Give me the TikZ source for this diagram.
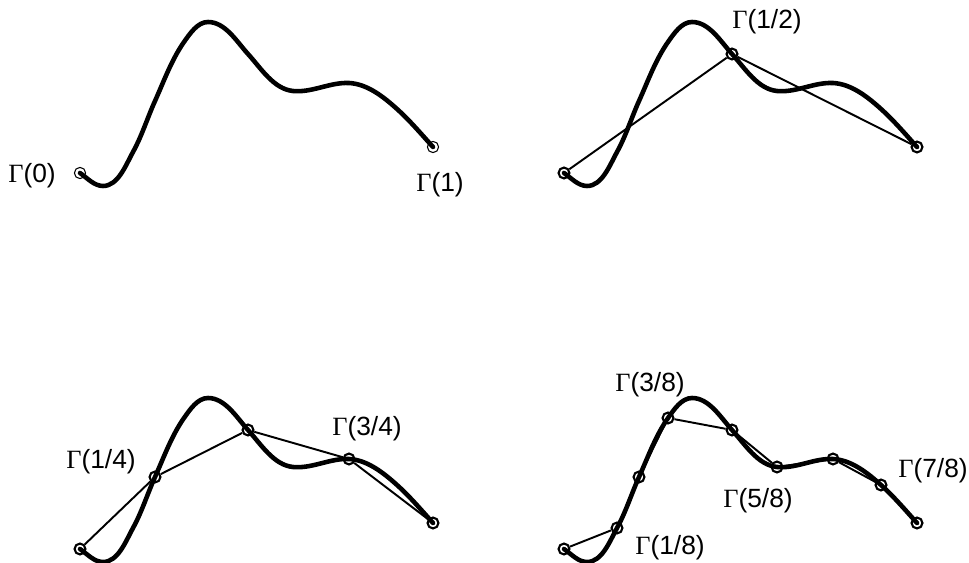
\documentclass[tikz,border=0pt]{standalone}
\usepackage{fontspec}
\setmainfont{Liberation Sans}
\newfontfamily\gammafont{Liberation Serif}
\newcommand{\Gam}{{\gammafont Γ}}
\tikzset{
  curve/.style={line width=2.6pt, line cap=round, line join=round},
  chord/.style={line width=1.1pt},
  pt/.style={circle, draw, line width=1.2pt, inner sep=0pt, minimum size=6.2pt},
  thinpt/.style={circle, draw, line width=0.6pt, inner sep=0pt, minimum size=6.4pt},
  lab/.style={font=\fontsize{15}{18}\selectfont, inner sep=0pt}
}
\newcommand{\gammacurve}{(80,173) .. controls (87.2,178) and (94.2,186) .. (103,186)
  .. controls (118.1,186) and (125.7,165.2) .. (133,152)
  .. controls (141.9,135.8) and (147.4,117.9) .. (155,101)
  .. controls (164,81) and (171.5,59.9) .. (184,42)
  .. controls (190,33.5) and (197.6,22) .. (208,22)
  .. controls (225.1,22) and (236.5,41.3) .. (248,54)
  .. controls (261.1,68.4) and (273.7,89.1) .. (293,91)
  .. controls (311.8,92.9) and (330.1,82.1) .. (349,83)
  .. controls (367.2,83.9) and (383.5,96.8) .. (397,109)
  .. controls (409.9,120.6) and (421.3,134.1) .. (433,147)}

\begin{document}
\begin{tikzpicture}[x=0.02cm, y=-0.02cm]
\useasboundingbox (0,0) rectangle (969,563);

\begin{scope}
\draw[curve] \gammacurve;
\node[thinpt] (a0) at (80,173) {};
\node[thinpt] (a8) at (433,147) {};
\node[lab] (la0) at (32,176) {\Gam(0)};
\node[lab] (la8) at (440,185) {\Gam(1)};
\end{scope}

\begin{scope}[shift={(484,0)}]
\draw[curve] \gammacurve;
\node[pt] (b0) at (80,173) {};
\node[pt] (b4) at (248,54) {};
\node[pt] (b8) at (433,147) {};
\draw[chord] (b0) -- (b4) -- (b8);
\node[lab] (lb4) at (283,22) {\Gam(1/2)};
\end{scope}

\begin{scope}[shift={(0,376)}]
\draw[curve] \gammacurve;
\node[pt] (c0) at (80,173) {};
\node[pt] (c2) at (155,101) {};
\node[pt] (c4) at (248,54) {};
\node[pt] (c6) at (349,83) {};
\node[pt] (c8) at (433,147) {};
\draw[chord] (c0) -- (c2) -- (c4) -- (c6) -- (c8);
\node[lab] (lc2) at (101,86) {\Gam(1/4)};
\node[lab] (lc6) at (367,53) {\Gam(3/4)};
\end{scope}

\begin{scope}[shift={(484,376)}]
\draw[curve] \gammacurve;
\node[pt] (d0) at (80,173) {};
\node[pt] (d1) at (133,152) {};
\node[pt] (d2) at (155,101) {};
\node[pt] (d3) at (184,42) {};
\node[pt] (d4) at (248,54) {};
\node[pt] (d5) at (293,91) {};
\node[pt] (d6) at (349,83) {};
\node[pt] (d7) at (397,109) {};
\node[pt] (d8) at (433,147) {};
\draw[chord] (d0) -- (d1) -- (d2) -- (d3) -- (d4) -- (d5) -- (d6) -- (d7) -- (d8);
\node[lab] (ld1) at (186,172) {\Gam(1/8)};
\node[lab] (ld3) at (166,9) {\Gam(3/8)};
\node[lab] (ld5) at (274,125) {\Gam(5/8)};
\node[lab] (ld7) at (449,95) {\Gam(7/8)};
\end{scope}
\end{tikzpicture}
\end{document}
